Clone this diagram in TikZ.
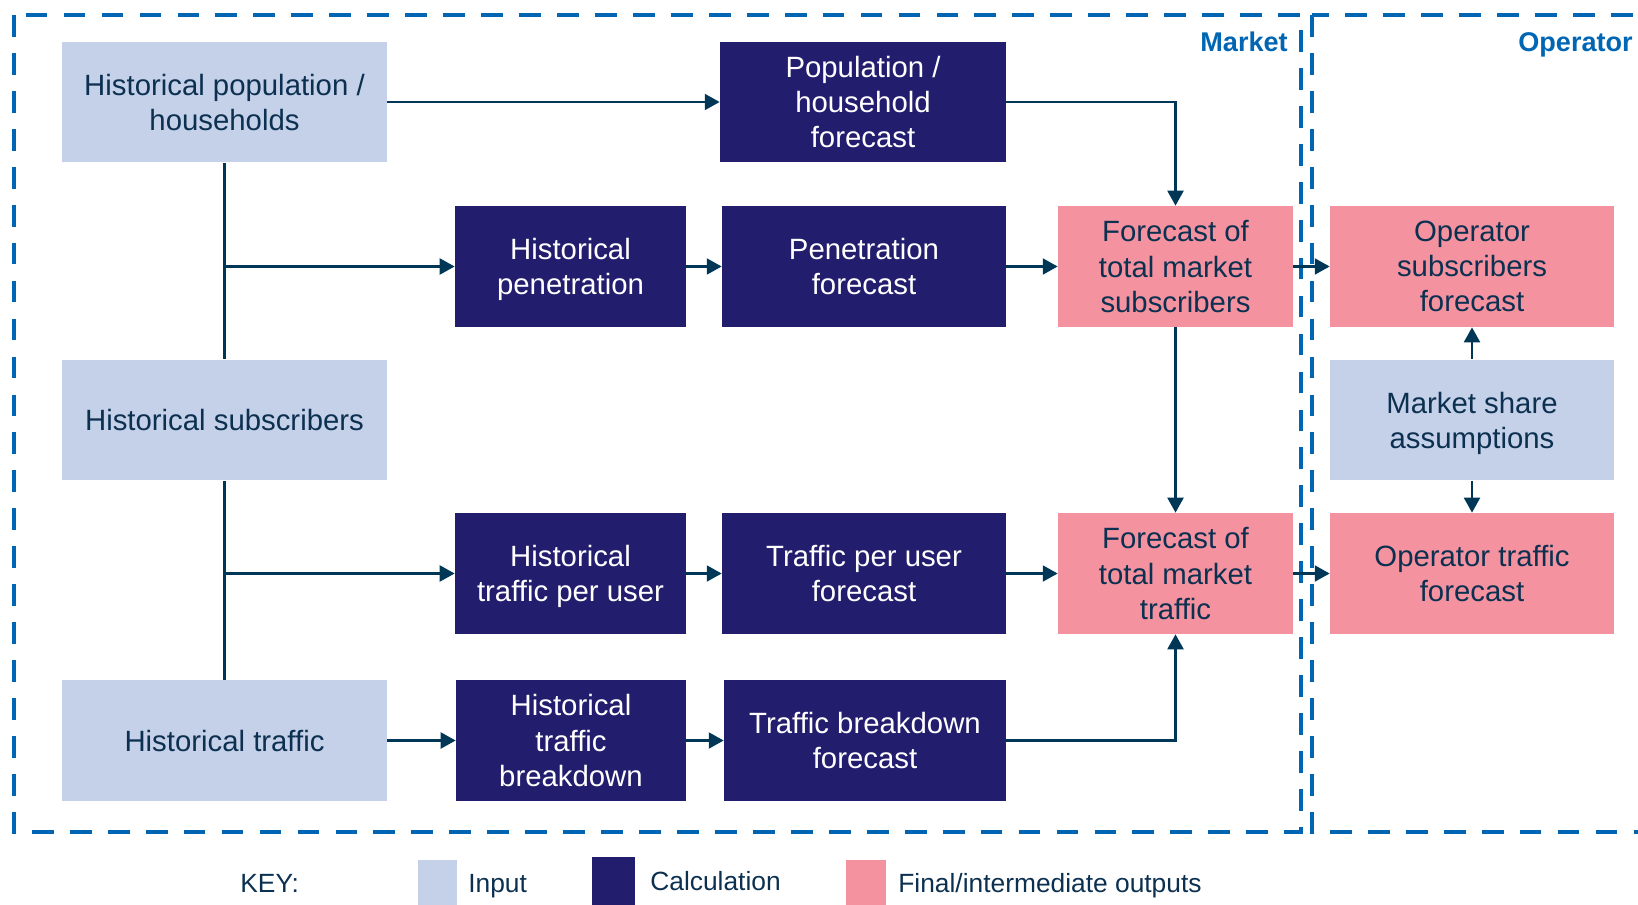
\documentclass[tikz,border=0pt]{standalone}
\usepackage{fontspec}
\setmainfont{Liberation Sans}
\usepackage{tikz}
\usetikzlibrary{arrows.meta,positioning}

\definecolor{inputfill}{RGB}{197,208,233}
\definecolor{calcfill}{RGB}{35,29,110}
\definecolor{outfill}{RGB}{244,146,160}
\definecolor{dashblue}{RGB}{0,102,179}
\definecolor{inkdark}{RGB}{12,48,80}
\definecolor{linkdark}{RGB}{0,54,86}

\begin{document}
\begin{tikzpicture}[
    x=0.02cm, y=-0.02cm,
    font=\fontsize{16.7}{20}\selectfont,
    box/.style={rectangle, inner sep=0pt, align=center, text depth=0pt, minimum height=2.42cm},
    input/.style={box, fill=inputfill, text=inkdark},
    calc/.style={box, fill=calcfill, text=white},
    output/.style={box, fill=outfill, text=inkdark},
    link/.style={draw=linkdark, line width=1.5pt},
    arrow/.style={link, -{Triangle[length=8.5pt,width=9pt]}},
    region/.style={draw=dashblue, line width=2.4pt, dash pattern=on 12.4pt off 9.2pt},
    regiontitle/.style={font=\fontsize{15.4}{18}\selectfont\bfseries, text=dashblue, inner sep=0pt, anchor=base east},
    keytext/.style={font=\fontsize{15}{18}\selectfont, text=inkdark, inner sep=0pt, anchor=base west}
]
\useasboundingbox (0,0) rectangle (1638,905);

% Regions
\draw[region] (14,15) rectangle (1301,832);
\draw[region] (1312,15) rectangle (1680,832);
\node[regiontitle] (market) at (1288,52) {Market};
\node[regiontitle] (operator) at (1633,52) {Operator};

% Inputs
\node[input, minimum width=6.5cm] (histpop) at (224.5,102) {Historical population /\\households};
\node[input, minimum width=6.5cm] (histsubs) at (224.5,420) {Historical subscribers};
\node[input, minimum width=6.5cm] (histtraffic) at (224.5,740.5) {Historical traffic};
\node[input, minimum width=5.68cm] (mktshare) at (1472,420) {Market share\\assumptions};

% Calculations
\node[calc, minimum width=5.72cm] (popfc) at (863,102) {Population /\\household\\forecast};
\node[calc, minimum width=4.62cm] (histpen) at (570.5,266.5) {Historical\\penetration};
\node[calc, minimum width=5.68cm] (penfc) at (864,266.5) {Penetration\\forecast};
\node[calc, minimum width=4.62cm] (histtpu) at (570.5,573.5) {Historical\\traffic per user};
\node[calc, minimum width=5.68cm] (tpufc) at (864,573.5) {Traffic per user\\forecast};
\node[calc, minimum width=4.6cm] (histtb) at (571,740.5) {Historical\\traffic\\breakdown};
\node[calc, minimum width=5.64cm] (tbfc) at (865,740.5) {Traffic breakdown\\forecast};

% Outputs
\node[output, minimum width=4.7cm] (mktsubs) at (1175.5,266.5) {Forecast of\\total market\\subscribers};
\node[output, minimum width=4.7cm] (mkttraffic) at (1175.5,573.5) {Forecast of\\total market\\traffic};
\node[output, minimum width=5.68cm] (opsubs) at (1472,266.5) {Operator\\subscribers\\forecast};
\node[output, minimum width=5.68cm] (optraffic) at (1472,573.5) {Operator traffic\\forecast};

% Arrows
\draw[arrow] (histpop) -- (popfc);
\draw[arrow] (popfc.east) -| (mktsubs.north);
\draw[link] (histpop.south) -- (histsubs.north);
\draw[arrow] (histpop.south |- histpen.west) -- (histpen.west);
\draw[arrow] (histpen) -- (penfc);
\draw[arrow] (penfc) -- (mktsubs);
\draw[arrow] (mktsubs) -- (opsubs);
\draw[link] (histsubs.south) -- (histtraffic.north);
\draw[arrow] (histsubs.south |- histtpu.west) -- (histtpu.west);
\draw[arrow] (histtpu) -- (tpufc);
\draw[arrow] (tpufc) -- (mkttraffic);
\draw[arrow] (mkttraffic) -- (optraffic);
\draw[arrow] (histtraffic) -- (histtb);
\draw[arrow] (histtb) -- (tbfc);
\draw[arrow] (tbfc.east) -| (mkttraffic.south);
\draw[arrow] (mktsubs) -- (mkttraffic);
\draw[arrow] (mktshare) -- (opsubs);
\draw[arrow] (mktshare) -- (optraffic);

% Key
\node[keytext] (keylabel) at (240,892) {KEY:};
\node[input, minimum width=0.78cm, minimum height=0.9cm] (keyinput) at (437.5,882.5) {};
\node[keytext] (keyinputtext) at (468,892) {Input};
\node[calc, minimum width=0.86cm, minimum height=0.96cm] (keycalc) at (613.5,881) {};
\node[keytext] (keycalctext) at (650,890) {Calculation};
\node[output, minimum width=0.8cm, minimum height=0.9cm] (keyoutput) at (866,882.5) {};
\node[keytext] (keyoutputtext) at (898,892) {Final/intermediate outputs};
\end{tikzpicture}
\end{document}
